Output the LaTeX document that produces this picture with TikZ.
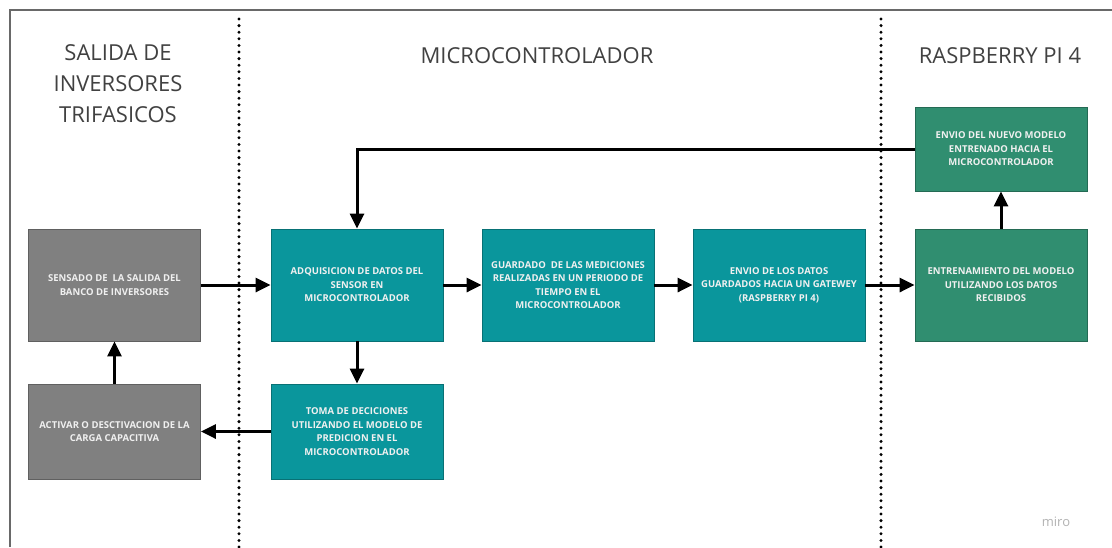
\documentclass[tikz,border=0pt]{standalone}
\usepackage{fontspec}
\setmainfont{Open Sans}
\usetikzlibrary{arrows.meta}
\definecolor{boxgray}{RGB}{128,128,128}
\definecolor{boxteal}{RGB}{10,150,156}
\definecolor{boxgreen}{RGB}{48,142,112}
\definecolor{framegray}{RGB}{105,105,105}
\definecolor{titlegray}{RGB}{65,65,65}
\definecolor{boxtext}{RGB}{240,240,240}
\tikzset{
  box/.style={rectangle, minimum width=172pt, align=center, text=boxtext,
    font=\fontsize{9.5}{13.5}\selectfont\bfseries, inner sep=2pt, line width=0.8pt},
  graybox/.style={box, fill=boxgray, draw=boxgray!75!black},
  tealbox/.style={box, fill=boxteal, draw=boxteal!75!black},
  greenbox/.style={box, fill=boxgreen, draw=boxgreen!75!black},
  title/.style={align=center, text=titlegray, font=\fontsize{22}{31}\selectfont},
  conn/.style={line width=3pt, -{Triangle[length=15pt,width=14pt]}},
  sep/.style={line width=3.3pt, line cap=round, dash pattern=on 0pt off 6.6pt, black}
}
\begin{document}
\begin{tikzpicture}[x=1pt,y=-1pt]
\useasboundingbox (0,0) rectangle (1112,547);
\draw[framegray, line width=1.2pt] (10,547) -- (10,10) -- (1112,10);

\node[title] (t1) at (118,84) {SALIDA DE\\INVERSORES\\TRIFASICOS};
\node[title] (t2) at (537,56) {MICROCONTROLADOR};
\node[title] (t3) at (1000,56) {RASPBERRY PI 4};

\node[graybox, minimum height=112pt] (sens) at (114.5,285) {SENSADO DE\ \ LA SALIDA DEL\\BANCO DE INVERSORES};
\node[graybox, minimum height=95pt] (act) at (114.5,431.5) {ACTIVAR O DESCTIVACION DE LA\\CARGA CAPACITIVA};
\node[tealbox, minimum height=112pt] (adq) at (357,285) {ADQUISICION DE DATOS DEL\\SENSOR EN\\MICROCONTROLADOR};
\node[tealbox, minimum height=95pt] (toma) at (357,431.5) {TOMA DE DECICIONES\\UTILIZANDO EL MODELO DE\\PREDICION EN EL\\MICROCONTROLADOR};
\node[tealbox, minimum height=112pt] (guar) at (568,285) {GUARDADO\ \ DE LAS MEDICIONES\\REALIZADAS EN UN PERIODO DE\\TIEMPO EN EL\\MICROCONTROLADOR};
\node[tealbox, minimum height=112pt] (envd) at (779,285) {ENVIO DE LOS DATOS\\GUARDADOS HACIA UN GATEWEY\\(RASPBERRY PI 4)};
\node[greenbox, minimum height=112pt] (entr) at (1001,285) {ENTRENAMIENTO DEL MODELO\\UTILIZANDO LOS DATOS\\RECIBIDOS};
\node[greenbox, minimum height=84pt] (nuevo) at (1001,149) {ENVIO DEL NUEVO MODELO\\ENTRENADO HACIA EL\\MICROCONTROLADOR};

\draw[conn] (sens) -- (adq);
\draw[conn] (adq) -- (guar);
\draw[conn] (guar) -- (envd);
\draw[conn] (envd) -- (entr);
\draw[conn] (entr) -- (nuevo);
\draw[conn] (nuevo.west) -| (adq.north);
\draw[conn] (adq) -- (toma);
\draw[conn] (toma) -- (act);
\draw[conn] (act) -- (sens);

\coordinate (d1t) at (239,19);
\coordinate (d1b) at (239,547);
\coordinate (d2t) at (881,19);
\coordinate (d2b) at (881,547);
\draw[sep] (d1t) -- (d1b);
\draw[sep] (d2t) -- (d2b);

\node[text=black!30, font=\fontsize{13}{15}\selectfont] (miro) at (1056,522) {miro};
\end{tikzpicture}
\end{document}
